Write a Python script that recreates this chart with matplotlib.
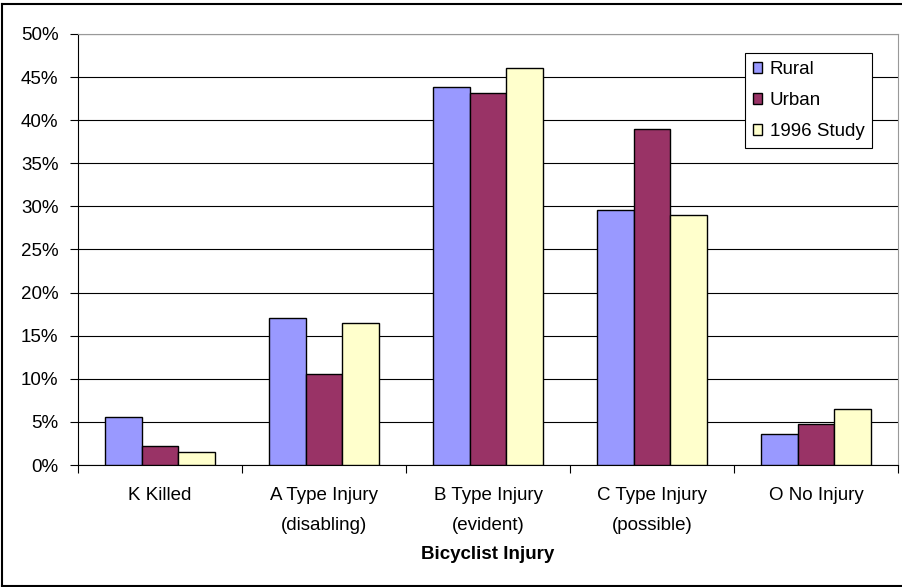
import matplotlib.pyplot as plt
import numpy as np
from matplotlib.patches import Patch
from matplotlib.lines import Line2D

plt.rcParams['font.family'] = ['Liberation Sans', 'DejaVu Sans']

categories = ['K Killed', 'A Type Injury\n(disabling)', 'B Type Injury\n(evident)',
              'C Type Injury\n(possible)', 'O No Injury']
series_names = ['Rural', 'Urban', '1996 Study']
rural = [5.6, 17.0, 43.9, 29.6, 3.6]
urban = [2.2, 10.5, 43.2, 39.0, 4.8]
study_1996 = [1.5, 16.5, 46.0, 29.0, 6.5]
colors = ['#9999FF', '#993366', '#FFFFCC']

fs = 13.5

fig = plt.figure(figsize=(9.02, 5.87), dpi=100)
ax = fig.add_axes([78 / 902, 1 - 465 / 587, (898 - 78) / 902, (465 - 34) / 587])

x = np.arange(len(categories))
w = 1 / 4.5
for i, vals in enumerate([rural, urban, study_1996]):
    ax.bar(x + (i - 1) * w, vals, w, color=colors[i], edgecolor='black',
           linewidth=1.0, zorder=3, label=series_names[i])

ax.set_xlim(-0.5, len(categories) - 0.5)
ax.set_ylim(0, 50)
ax.set_yticks(np.arange(0, 51, 5))
ax.set_yticklabels([f'{v}%' for v in range(0, 51, 5)], fontsize=fs)
ax.yaxis.grid(True, color='black', linewidth=0.8)
ax.set_axisbelow(True)

# category boundaries as ticks, labels at the centres
ax.set_xticks(np.arange(-0.5, len(categories), 1))
ax.set_xticklabels([])
ax.set_xticks(x, minor=True)
ax.set_xticklabels(categories, minor=True, fontsize=fs, linespacing=1.95)
ax.tick_params(axis='x', which='minor', length=0, pad=16)
ax.tick_params(axis='both', which='major', length=6, width=0.8, direction='out')
ax.tick_params(axis='y', pad=8)
ax.set_xlabel('Bicyclist Injury', fontsize=fs, fontweight='bold', labelpad=9)

for s in ['top', 'right']:
    ax.spines[s].set_color('#999999')
for s in ['left', 'bottom']:
    ax.spines[s].set_color('black')
    ax.spines[s].set_linewidth(0.8)

handles = [Patch(facecolor=c, edgecolor='black', linewidth=1.0) for c in colors]
leg = ax.legend(handles, series_names, loc='upper left', fontsize=fs,
                bbox_to_anchor=((745 - 78) / 820, 1 - (53 - 34) / 431),
                frameon=True, fancybox=False, edgecolor='black', framealpha=1,
                handlelength=0.5, handleheight=0.5, handletextpad=0.4,
                labelspacing=0.75, borderpad=0.42, borderaxespad=0)
leg.get_frame().set_linewidth(0.8)
leg.set_zorder(5)

# figure border (right side cropped off in the original)
fig.add_artist(Line2D([2 / 902, 2 / 902], [1 - 4 / 587, 1 - 586 / 587], color='black', lw=1.5))
fig.add_artist(Line2D([2 / 902, 1], [1 - 4 / 587, 1 - 4 / 587], color='black', lw=1.5))
fig.add_artist(Line2D([2 / 902, 1], [1 - 586 / 587, 1 - 586 / 587], color='black', lw=1.5))

fig.savefig('out.png', dpi=100)
